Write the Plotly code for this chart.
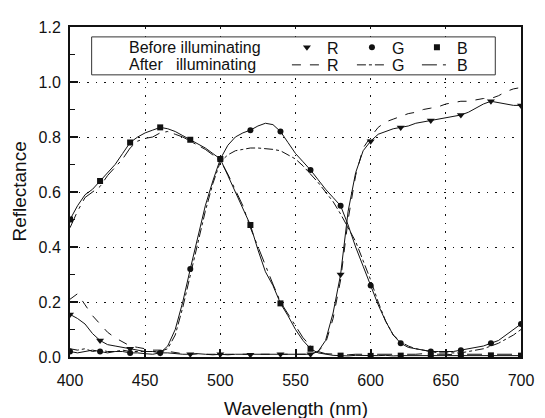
import plotly.graph_objects as go

# ---------------- data ----------------
wavelength = list(range(400, 701, 5))

before_R = [0.155, 0.14, 0.12, 0.085, 0.06, 0.045, 0.04, 0.035, 0.03, 0.025,
            0.02, 0.02, 0.015, 0.015, 0.012, 0.01, 0.01, 0.012, 0.01, 0.008,
            0.01, 0.008, 0.01, 0.01, 0.008, 0.01, 0.008, 0.01, 0.01, 0.008,
            0.01, 0.01, 0.01, 0.02, 0.06, 0.16, 0.30, 0.53, 0.67, 0.75,
            0.785, 0.81, 0.82, 0.83, 0.835, 0.84, 0.85, 0.855, 0.86, 0.865,
            0.87, 0.875, 0.88, 0.89, 0.905, 0.92, 0.93, 0.925, 0.92, 0.915,
            0.915]
before_G = [0.02, 0.015, 0.02, 0.025, 0.02, 0.015, 0.02, 0.02, 0.015, 0.015,
            0.012, 0.01, 0.015, 0.04, 0.10, 0.20, 0.32, 0.44, 0.55, 0.64,
            0.72, 0.77, 0.80, 0.815, 0.825, 0.84, 0.85, 0.845, 0.82, 0.78,
            0.74, 0.71, 0.68, 0.645, 0.61, 0.58, 0.55, 0.48, 0.40, 0.33,
            0.26, 0.19, 0.13, 0.08, 0.05, 0.035, 0.03, 0.025, 0.02, 0.02,
            0.02, 0.02, 0.025, 0.03, 0.035, 0.04, 0.05, 0.06, 0.08, 0.10,
            0.12]
before_B = [0.50, 0.55, 0.59, 0.61, 0.64, 0.67, 0.70, 0.74, 0.78, 0.80,
            0.815, 0.825, 0.835, 0.83, 0.82, 0.805, 0.79, 0.775, 0.76, 0.74,
            0.72, 0.66, 0.60, 0.54, 0.48, 0.39, 0.31, 0.26, 0.195, 0.15,
            0.10, 0.06, 0.03, 0.015, 0.01, 0.006, 0.005, 0.004, 0.006, 0.005,
            0.004, 0.005, 0.006, 0.004, 0.005, 0.005, 0.004, 0.006, 0.005, 0.004,
            0.005, 0.006, 0.005, 0.004, 0.005, 0.005, 0.006, 0.004, 0.005, 0.005,
            0.005]

after_R = [0.21, 0.23, 0.19, 0.15, 0.12, 0.09, 0.07, 0.055, 0.04, 0.035,
           0.03, 0.025, 0.025, 0.02, 0.015, 0.012, 0.01, 0.012, 0.01, 0.01,
           0.012, 0.01, 0.01, 0.012, 0.01, 0.01, 0.012, 0.01, 0.01, 0.01,
           0.012, 0.01, 0.01, 0.02, 0.05, 0.14, 0.28, 0.50, 0.66, 0.76,
           0.80, 0.835, 0.855, 0.865, 0.875, 0.885, 0.89, 0.90, 0.905, 0.91,
           0.92, 0.925, 0.93, 0.93, 0.935, 0.94, 0.94, 0.95, 0.965, 0.975,
           0.98]
after_G = [0.03, 0.025, 0.03, 0.02, 0.025, 0.02, 0.02, 0.025, 0.02, 0.02,
           0.018, 0.02, 0.02, 0.03, 0.08, 0.18, 0.30, 0.42, 0.53, 0.63,
           0.71, 0.735, 0.75, 0.755, 0.76, 0.76, 0.758, 0.755, 0.75, 0.735,
           0.72, 0.695, 0.665, 0.635, 0.60, 0.565, 0.52, 0.47, 0.42, 0.35,
           0.28, 0.20, 0.13, 0.08, 0.055, 0.04, 0.03, 0.025, 0.02, 0.015,
           0.015, 0.015, 0.015, 0.02, 0.025, 0.03, 0.04, 0.05, 0.065, 0.08,
           0.10]
after_B = [0.47, 0.53, 0.58, 0.60, 0.62, 0.66, 0.69, 0.72, 0.76, 0.785,
           0.795, 0.80, 0.815, 0.82, 0.81, 0.80, 0.785, 0.77, 0.755, 0.735,
           0.715, 0.665, 0.61, 0.55, 0.47, 0.40, 0.33, 0.265, 0.20, 0.155,
           0.11, 0.07, 0.04, 0.02, 0.012, 0.01, 0.01, 0.008, 0.01, 0.01,
           0.008, 0.01, 0.01, 0.01, 0.008, 0.01, 0.01, 0.012, 0.01, 0.01,
           0.01, 0.008, 0.01, 0.01, 0.012, 0.01, 0.01, 0.01, 0.012, 0.01,
           0.01]

x_ticks = [400, 450, 500, 550, 600, 650, 700]
y_ticks = [0.0, 0.2, 0.4, 0.6, 0.8, 1.0, 1.2]
y_tick_labels = ["0.0", "0.2", "0.4", "0.6", "0.8", "1.0", "1.2"]

MARK_STEP = 4  # markers every 20 nm
FONT = "Liberation Sans, Arial, sans-serif"
INK = "#111111"

fig = go.Figure()

before = [("R", before_R, "triangle-down", 7),
          ("G", before_G, "circle", 6),
          ("B", before_B, "square", 6)]
for name, vals, sym, size in before:
    fig.add_trace(go.Scatter(x=wavelength, y=vals, mode="lines",
                             line=dict(color=INK, width=1),
                             showlegend=False, hoverinfo="skip"))
    fig.add_trace(go.Scatter(x=wavelength[::MARK_STEP], y=vals[::MARK_STEP],
                             mode="markers", name=name, legend="legend",
                             marker=dict(symbol=sym, size=size, color=INK)))

after = [("R", after_R, "dash"),
         ("G", after_G, "dashdot"),
         ("B", after_B, "longdashdot")]
for name, vals, dash in after:
    fig.add_trace(go.Scatter(x=wavelength, y=vals, mode="lines", name=name,
                             legend="legend2",
                             line=dict(color=INK, width=1, dash=dash)))

axis_common = dict(showline=True, linecolor=INK, linewidth=2, mirror=True,
                   ticks="inside", ticklen=8, tickwidth=2, tickcolor=INK,
                   showgrid=True, gridcolor=INK, gridwidth=1, griddash="1.5px,7px",
                   zeroline=False, tickfont=dict(family=FONT, size=16, color=INK))

fig.update_xaxes(range=[400, 700], tickvals=x_ticks, ticklabelstandoff=8,
                 **axis_common)
fig.update_yaxes(range=[0, 1.2], tickvals=y_ticks, ticktext=y_tick_labels,
                 ticklabelstandoff=4,
                 minor=dict(ticks="inside", ticklen=5, tickwidth=1, tickcolor=INK,
                            dtick=0.1, showgrid=False),
                 **axis_common)

LEG_SIZE = 16
legend_common = dict(orientation="h", xanchor="left", yanchor="middle",
                     bgcolor="rgba(0,0,0,0)", borderwidth=0,
                     font=dict(family=FONT, size=LEG_SIZE, color=INK),
                     entrywidth=20, itemclick=False, itemdoubleclick=False)

ROW1, ROW2 = 0.938, 0.885
leg_font = dict(family=FONT, size=LEG_SIZE, color=INK)

fig.update_layout(
    width=537, height=410,
    margin=dict(l=62, r=16, t=11, b=61),
    paper_bgcolor="white", plot_bgcolor="white",
    font=dict(family=FONT, size=16, color=INK),
    legend=dict(x=0.481, y=ROW1, **legend_common),
    legend2=dict(x=0.481, y=ROW2, **legend_common),
    shapes=[dict(type="rect", xref="paper", yref="paper",
                 x0=0.048, x1=0.943, y0=0.855, y1=0.970,
                 line=dict(color="#333333", width=1), fillcolor="white",
                 layer="above")],
    annotations=[
        dict(text="Wavelength (nm)", xref="paper", yref="paper", x=0.5, y=-0.157,
             xanchor="center", yanchor="middle", showarrow=False,
             font=dict(family=FONT, size=19, color=INK)),
        dict(text="Reflectance", xref="paper", yref="paper", x=-0.114, y=0.5,
             xanchor="center", yanchor="middle", textangle=-90, showarrow=False,
             font=dict(family=FONT, size=19, color=INK)),
        dict(text="Before illuminating", xref="paper", yref="paper", x=0.126, y=ROW1,
             xanchor="left", yanchor="middle", showarrow=False, font=leg_font),
        dict(text="After", xref="paper", yref="paper", x=0.126, y=ROW2,
             xanchor="left", yanchor="middle", showarrow=False, font=leg_font),
        dict(text="illuminating", xref="paper", yref="paper", x=0.417, y=ROW2,
             xanchor="right", yanchor="middle", showarrow=False, font=leg_font),
    ],
)

fig.write_html("out.html")
